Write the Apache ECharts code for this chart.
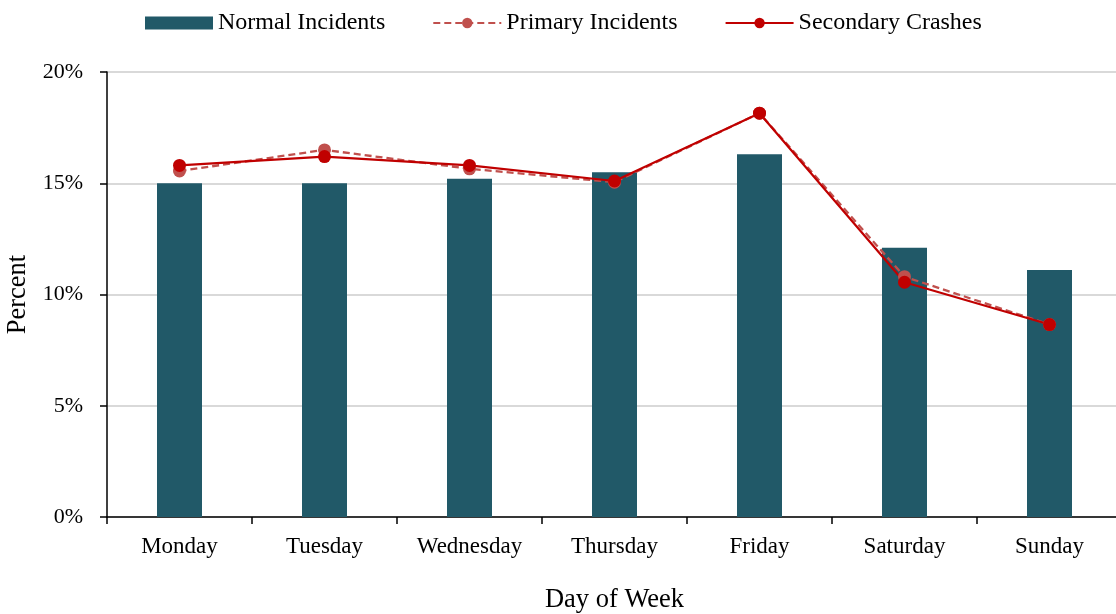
<!DOCTYPE html>
<html>
<head>
<meta charset="utf-8">
<script src="https://cdn.jsdelivr.net/npm/echarts@6/dist/echarts.min.js"></script>
<style>
  html, body { margin: 0; padding: 0; background: #fff; }
  #chart { width: 1116px; height: 614px; }
</style>
</head>
<body>
<div id="chart"></div>
<script>
// Share of incidents by day of week (percent)
const days = ['Monday', 'Tuesday', 'Wednesday', 'Thursday', 'Friday', 'Saturday', 'Sunday'];
const normalIncidents = [15.0, 15.0, 15.2, 15.5, 16.3, 12.1, 11.1];
const primaryIncidents = [15.55, 16.5, 15.65, 15.05, 18.15, 10.8, 8.65];
const secondaryCrashes = [15.8, 16.2, 15.8, 15.1, 18.15, 10.55, 8.65];
const yTicks = [0, 5, 10, 15, 20];

const font = '"Liberation Serif", "Times New Roman", serif';
const chart = echarts.init(document.getElementById('chart'));

chart.setOption({
  animation: false,
  textStyle: { fontFamily: font, color: '#000' },
  legend: {
    top: 6,
    left: 140,
    itemWidth: 68,
    itemHeight: 13,
    itemGap: 47,
    textStyle: { fontFamily: font, fontSize: 24, color: '#000' },
    data: [
      { name: 'Normal Incidents', icon: 'rect' },
      { name: 'Primary Incidents' },
      { name: 'Secondary Crashes' }
    ]
  },
  grid: {
    left: 107, top: 72, width: 1015, height: 445,
    containLabel: false,
    outerBoundsMode: 'none'
  },
  xAxis: {
    type: 'category',
    data: days,
    name: 'Day of Week',
    nameLocation: 'middle',
    nameGap: 70,
    nameTextStyle: { fontFamily: font, fontSize: 26.5, color: '#000' },
    axisLine: { lineStyle: { color: '#000', width: 1.5 } },
    axisTick: { show: true, length: 7, lineStyle: { color: '#000', width: 1.5 } },
    axisLabel: { fontFamily: font, fontSize: 23, color: '#000', margin: 18 }
  },
  yAxis: {
    type: 'value',
    min: yTicks[0],
    max: yTicks[yTicks.length - 1],
    interval: 5,
    name: 'Percent',
    nameLocation: 'middle',
    nameGap: 71,
    nameRotate: 90,
    nameTextStyle: { fontFamily: font, fontSize: 26.5, color: '#000' },
    axisLine: { show: true, lineStyle: { color: '#000', width: 1.5 } },
    axisTick: { show: true, length: 7, lineStyle: { color: '#000', width: 1.5 } },
    axisLabel: { fontFamily: font, fontSize: 22, color: '#000', margin: 24, formatter: '{value}%' },
    splitLine: { lineStyle: { color: '#d9d9d9', width: 2 } }
  },
  series: [
    {
      name: 'Normal Incidents',
      type: 'bar',
      data: normalIncidents,
      barWidth: 45,
      itemStyle: { color: '#215968' }
    },
    {
      name: 'Primary Incidents',
      type: 'line',
      data: primaryIncidents,
      symbol: 'circle',
      symbolSize: 13,
      itemStyle: { color: '#c0504d' },
      lineStyle: { color: '#c0504d', width: 2.3, type: [7, 4] }
    },
    {
      name: 'Secondary Crashes',
      type: 'line',
      data: secondaryCrashes,
      symbol: 'circle',
      symbolSize: 13,
      itemStyle: { color: '#c00000' },
      lineStyle: { color: '#c00000', width: 2.2 }
    }
  ]
});
</script>
</body>
</html>
